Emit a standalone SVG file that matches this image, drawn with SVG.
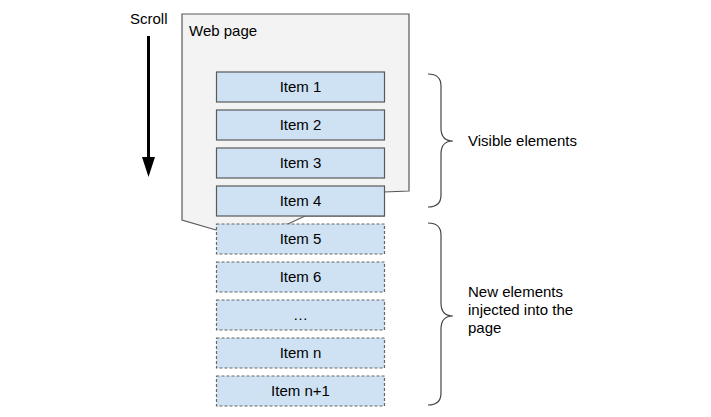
<svg xmlns="http://www.w3.org/2000/svg" width="711" height="417" viewBox="0 0 711 417">
<style>
text{font-family:"Liberation Sans",Arial,sans-serif;font-size:15px;fill:#000}
.c{text-anchor:middle}
.item{fill:#cfe2f3;stroke:#595959;stroke-width:1.2}
.new{fill:#cfe2f3;stroke:#666;stroke-width:1.2;stroke-dasharray:3,2}
.brace{fill:none;stroke:#444;stroke-width:1.2}
</style>
<rect width="711" height="417" fill="#fff"/>
<g id="scroll">
<text x="130" y="24">Scroll</text>
<line x1="148.5" y1="36" x2="148.5" y2="160" stroke="#000" stroke-width="3"/>
<polygon points="142,157 155,157 148.5,177" fill="#000"/>
</g>
<g id="webpage">
<polygon points="182,14 409,14 409,191 384,192 384,216 305,216 288,224 216,230 182,220" fill="#f3f3f3" stroke="#595959" stroke-width="1.2"/>
<text x="189" y="36">Web page</text>
</g>
<g id="item1"><rect class="item" x="216.5" y="72" width="168" height="30"/><text class="c" x="300.5" y="92">Item 1</text></g>
<g id="item2"><rect class="item" x="216.5" y="110" width="168" height="30"/><text class="c" x="300.5" y="130">Item 2</text></g>
<g id="item3"><rect class="item" x="216.5" y="148" width="168" height="30"/><text class="c" x="300.5" y="168">Item 3</text></g>
<g id="item4"><rect class="item" x="216.5" y="186" width="168" height="30"/><text class="c" x="300.5" y="206">Item 4</text></g>
<g id="item5"><rect class="new" x="216.5" y="224" width="168" height="30"/><text class="c" x="300.5" y="244">Item 5</text></g>
<g id="item6"><rect class="new" x="216.5" y="262" width="168" height="30"/><text class="c" x="300.5" y="282">Item 6</text></g>
<g id="itemdots"><rect class="new" x="216.5" y="300" width="168" height="30"/><text class="c" x="300.5" y="320">…</text></g>
<g id="itemn"><rect class="new" x="216.5" y="338" width="168" height="30"/><text class="c" x="300.5" y="358">Item n</text></g>
<g id="itemn1"><rect class="new" x="216.5" y="376" width="168" height="30"/><text class="c" x="300.5" y="396">Item n+1</text></g>
<g id="visible">
<path class="brace" d="M428,74 Q441,74 441,86 L441,128 Q441,141 453,141 Q441,141 441,154 L441,195 Q441,207 428,207"/>
<text x="468" y="146">Visible elements</text>
</g>
<g id="newelements">
<path class="brace" d="M428,223 Q441,223 441,235 L441,303 Q441,316 453,316 Q441,316 441,329 L441,393 Q441,405 428,405"/>
<text x="468" y="297">New elements</text>
<text x="468" y="315">injected into the</text>
<text x="468" y="333">page</text>
</g>
</svg>
